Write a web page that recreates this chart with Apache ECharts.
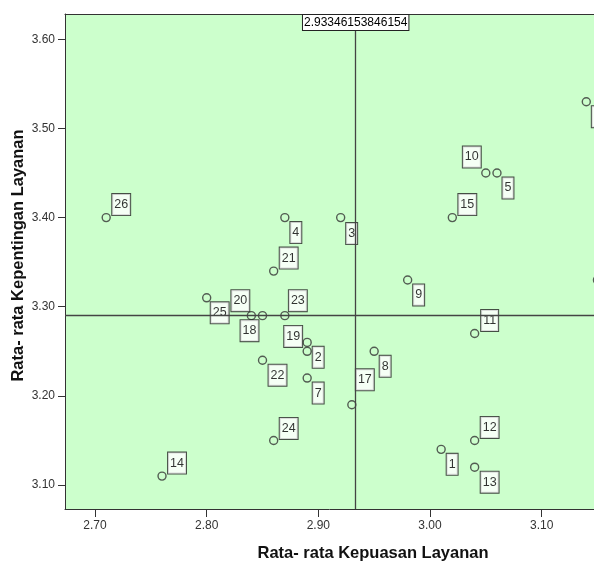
<!DOCTYPE html>
<html>
<head>
<meta charset="utf-8">
<script src="https://cdn.jsdelivr.net/npm/echarts@6/dist/echarts.min.js"></script>
<style>
html,body{margin:0;padding:0;background:#fff;}
#chart{width:594px;height:561px;}
</style>
</head>
<body>
<div id="chart"></div>
<script>
// ---- data ----
const ids = ['1','2','3','4','5','6','7','8','9','10','11','12','13','14','15','16','17','18','19','20','21','22','23','24','25','26'];
const kepuasan = [3.01,2.89,2.92,2.87,3.06,3.14,2.89,2.95,2.98,3.05,3.04,3.04,3.04,2.76,3.02,3.15,2.93,2.85,2.89,2.84,2.86,2.85,2.87,2.86,2.80,2.71];
const kepentingan = [3.14,3.25,3.40,3.40,3.45,3.53,3.22,3.25,3.33,3.45,3.27,3.15,3.12,3.11,3.40,3.33,3.19,3.29,3.26,3.29,3.34,3.24,3.29,3.15,3.31,3.40];
const xTicks = [2.70,2.80,2.90,3.00,3.10];
const yTicks = [3.10,3.20,3.30,3.40,3.50,3.60];
const xTitle = 'Rata- rata Kepuasan Layanan';
const yTitle = 'Rata- rata Kepentingan Layanan';

// label placement (offset of label box centre from point, px) - style only
const labelOffsets = {
  '1':[11,15],'2':[11,6],'3':[11,16],'4':[11,15],'5':[11,15],'6':[11,15],'7':[11,15],
  '8':[11,15],'9':[11,15],'10':[-14,-16],'11':[15,-13],'12':[15,-13],'13':[15,15],
  '14':[15,-13],'15':[15,-13],'16':[11,15],'17':[13,-25],'18':[-13,15],'19':[-14,-6],
  '20':[-11,-15],'21':[15,-13],'22':[15,15],'23':[13,-15],'24':[15,-12],'25':[13,15],'26':[15,-13]
};

const mean = a => a.reduce((s,v)=>s+v,0)/a.length;
const refX = mean(kepuasan);
const refY = mean(kepentingan);

const points = ids.map((id,i)=>({value:[kepuasan[i],kepentingan[i]], name:id}));

const FONT = '"Liberation Sans", Arial, sans-serif';
const X_MIN = 2.6731, X_MAX = 3.1469, Y_MIN = 3.0731, Y_MAX = 3.6284;
const chart = echarts.init(document.getElementById('chart'), null, {renderer:'canvas'});
chart.setOption({
  animation:false,
  grid:{left:65, top:14, bottom:52, right:0, show:true, backgroundColor:'#ccffcc', borderWidth:0,
        containLabel:false, outerBoundsMode:'none'},
  xAxis:[{
    type:'value', min:X_MIN, max:X_MAX,
    name:xTitle, nameLocation:'middle', nameGap:36, nameMoveOverlap:false,
    nameTextStyle:{fontFamily:FONT, fontSize:16.5, fontWeight:'bold', color:'#111', padding:[0,0,0,87]},
    axisLine:{show:true, onZero:false, lineStyle:{color:'#333', width:1}},
    axisTick:{show:true, length:8, customValues:xTicks, lineStyle:{color:'#333'}},
    axisLabel:{customValues:xTicks, formatter:v=>Number(v).toFixed(2), fontFamily:FONT, fontSize:12, color:'#333', margin:11},
    splitLine:{show:false}
  },{
    type:'value', position:'top', min:X_MIN, max:X_MAX,
    axisLine:{show:true, onZero:false, lineStyle:{color:'#333', width:1}},
    axisTick:{show:false}, axisLabel:{show:false}, splitLine:{show:false}
  }],
  yAxis:{
    type:'value', min:Y_MIN, max:Y_MAX,
    name:yTitle, nameLocation:'middle', nameGap:38, nameMoveOverlap:false,
    nameTextStyle:{fontFamily:FONT, fontSize:16.5, fontWeight:'bold', color:'#111', padding:[0,0,0,12]},
    axisLine:{show:true, onZero:false, lineStyle:{color:'#333', width:1}},
    axisTick:{show:true, length:7, customValues:yTicks, lineStyle:{color:'#333'}},
    axisLabel:{customValues:yTicks, formatter:v=>Number(v).toFixed(2), fontFamily:FONT, fontSize:12, color:'#333', margin:10},
    splitLine:{show:false}
  },
  series:[{
    type:'scatter',
    data:points,
    clip:false,
    symbol:'circle',
    symbolSize:8,
    itemStyle:{color:'rgba(0,0,0,0)', borderColor:'#333', borderWidth:1.4},
    label:{
      show:true, position:'inside', formatter:p=>p.name,
      fontFamily:FONT, fontSize:12.5, color:'#000',
      backgroundColor:'#fff', borderColor:'#222', borderWidth:1, padding:[4,2,3,2], lineHeight:14
    },
    labelLayout:p=>{const o=labelOffsets[ids[p.dataIndex]]; return {dx:o[0], dy:o[1]};},
    markLine:{
      silent:true, symbol:'none', precision:15,
      lineStyle:{color:'#444', width:1.3, type:'solid'},
      data:[
        {xAxis:refX, label:{show:true, position:'end', distance:-16, formatter:()=>refX.toPrecision(15),
          fontFamily:FONT, fontSize:12, color:'#000', backgroundColor:'#fff', borderColor:'#222', borderWidth:1, padding:[2,1,1,1]}},
        {yAxis:refY, label:{show:false}}
      ]
    }
  }]
});
</script>
</body>
</html>
